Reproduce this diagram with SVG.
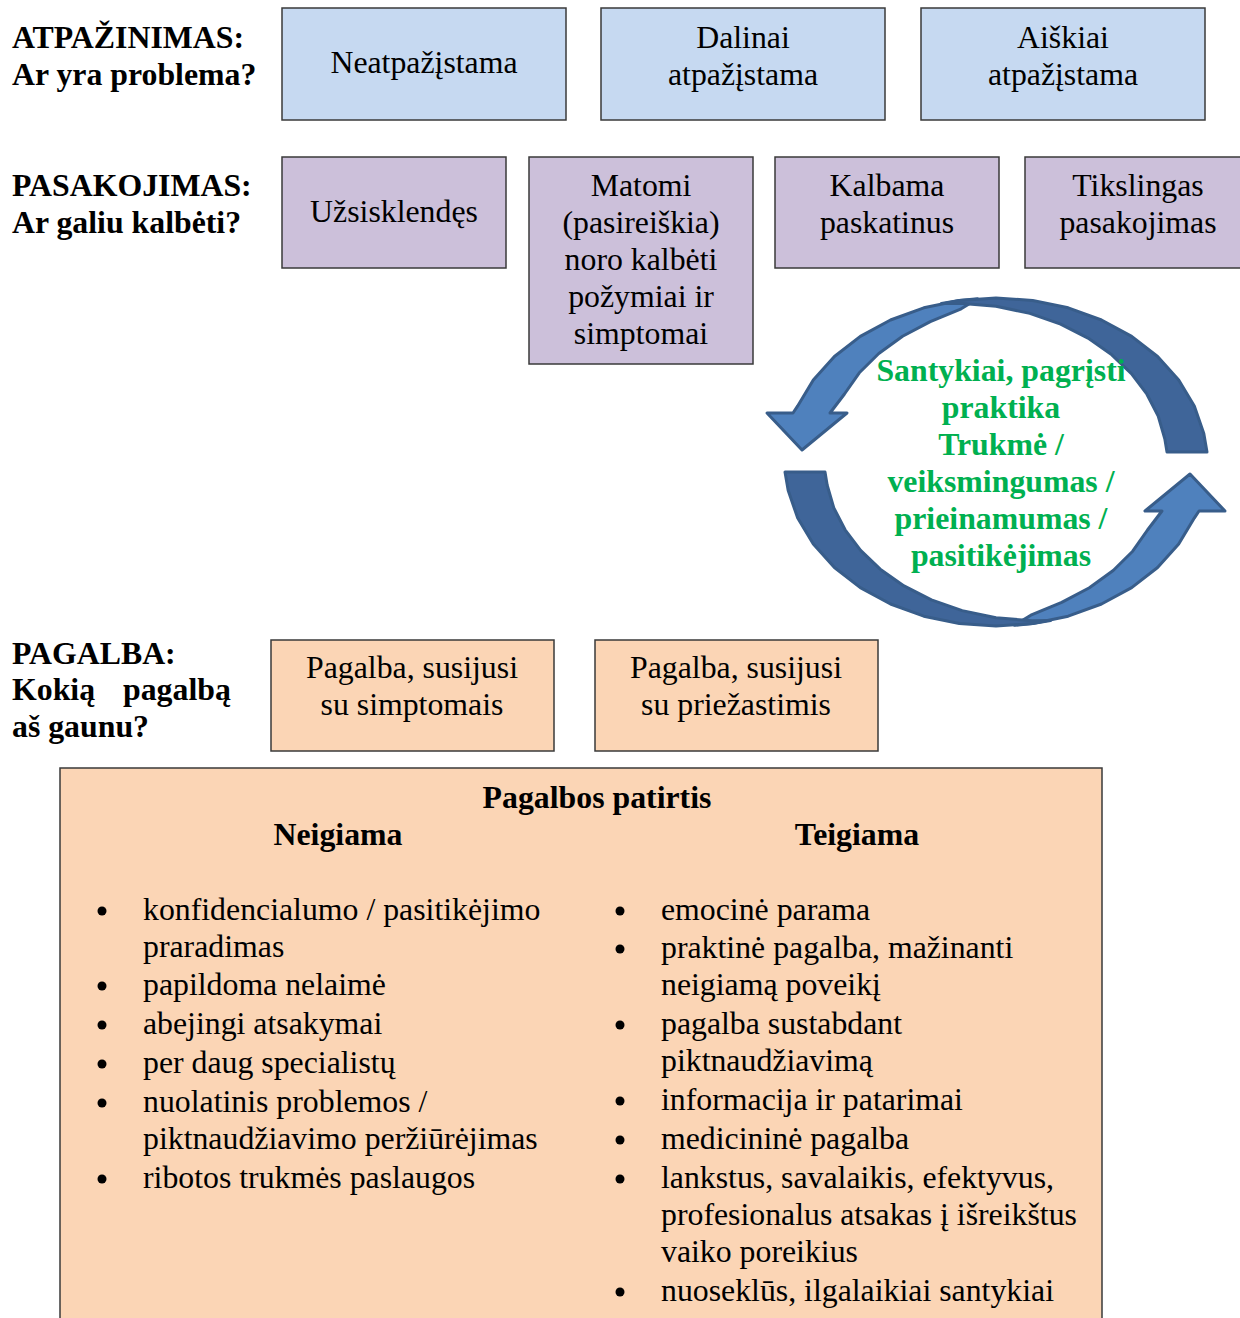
<svg xmlns="http://www.w3.org/2000/svg" width="1240" height="1318" viewBox="0 0 1240 1318">
<style>
text{font-family:"Liberation Serif","Times New Roman",serif;font-size:31.8px;fill:#000}
.b{font-weight:bold}
.c{text-anchor:middle}
.g{fill:#00B050;font-weight:bold;text-anchor:middle}
.box{stroke:#3a3a3a;stroke-width:1.5}
.blue{fill:#C6D9F1}
.purple{fill:#CCC0DA}
.peach{fill:#FBD5B5}
.arrL{fill:#4F81BD;stroke:#385D8A;stroke-width:3;stroke-linejoin:round}
.arrD{fill:#3F6599;stroke:#385D8A;stroke-width:3;stroke-linejoin:round}
.dot{fill:#000}
</style>
<defs>
<g id="curvArrow">
<path class="arrL" d="M977.6,298.7 L959.3,300.5 L923.8,307.8 L890.5,320 L860.3,336.4 L834.4,356.5 L813.3,380 L797.7,405.9 L793,413 L767,413 L802,450 L847,413 L830,413 L844.5,394 L859.3,372.8 L878.8,353.5 L902.6,336.3 L930.3,321.6 L961.2,308.8 Z"/>
<path class="arrD" d="M1207,452 L1203.8,433.5 L1194.3,405.9 L1178.7,380 L1157.6,356.5 L1131.7,336.4 L1101.5,320 L1068.2,307.8 L1032.7,300.5 L996,298 L959.3,300.5 L941.4,303.6 L959.9,303.3 L996,306.2 L1029.8,313.4 L1060.6,324.1 L1088,338.1 L1111.8,354.8 L1131.4,373.7 L1146.9,394.2 L1158.2,416.1 L1164.8,438.8 L1167,452 Z"/>
</g>
</defs>
<rect width="1240" height="1318" fill="#fff"/>

<g id="labels">
<text class="b" x="12" y="48">ATPAŽINIMAS:</text>
<text class="b" x="12" y="85">Ar yra problema?</text>
<text class="b" x="12" y="196">PASAKOJIMAS:</text>
<text class="b" x="12" y="233">Ar galiu kalbėti?</text>
<text class="b" x="12" y="664">PAGALBA:</text>
<text class="b" y="700"><tspan x="12">Kokią</tspan><tspan x="123">pagalbą</tspan></text>
<text class="b" x="12" y="737">aš gaunu?</text>
</g>

<g id="node-neatpazistama">
<rect class="box blue" x="282" y="8" width="284" height="112"/>
<text class="c" x="424" y="73">Neatpažįstama</text>
</g>
<g id="node-dalinai">
<rect class="box blue" x="601" y="8" width="284" height="112"/>
<text class="c" x="743" y="48">Dalinai</text>
<text class="c" x="743" y="85">atpažįstama</text>
</g>
<g id="node-aiskiai">
<rect class="box blue" x="921" y="8" width="284" height="112"/>
<text class="c" x="1063" y="48">Aiškiai</text>
<text class="c" x="1063" y="85">atpažįstama</text>
</g>

<g id="node-uzsisklendes">
<rect class="box purple" x="282" y="157" width="224" height="111"/>
<text class="c" x="394" y="222">Užsisklendęs</text>
</g>
<g id="node-matomi">
<rect class="box purple" x="529" y="157" width="224" height="207"/>
<text class="c" x="641" y="196">Matomi</text>
<text class="c" x="641" y="233">(pasireiškia)</text>
<text class="c" x="641" y="270">noro kalbėti</text>
<text class="c" x="641" y="307">požymiai ir</text>
<text class="c" x="641" y="344">simptomai</text>
</g>
<g id="node-kalbama">
<rect class="box purple" x="775" y="157" width="224" height="111"/>
<text class="c" x="887" y="196">Kalbama</text>
<text class="c" x="887" y="233">paskatinus</text>
</g>
<g id="node-tikslingas">
<rect class="box purple" x="1025" y="157" width="240" height="111"/>
<text class="c" x="1138" y="196">Tikslingas</text>
<text class="c" x="1138" y="233">pasakojimas</text>
</g>

<g id="connectors">
<use href="#curvArrow"/>
<use href="#curvArrow" transform="rotate(180 996 462)"/>
</g>

<g id="node-cycle">
<text class="g" x="1001" y="381">Santykiai, pagrįsti</text>
<text class="g" x="1001" y="418">praktika</text>
<text class="g" x="1001" y="455">Trukmė /</text>
<text class="g" x="1001" y="492">veiksmingumas /</text>
<text class="g" x="1001" y="529">prieinamumas /</text>
<text class="g" x="1001" y="566">pasitikėjimas</text>
</g>

<g id="node-simptomai">
<rect class="box peach" x="271" y="640" width="283" height="111"/>
<text class="c" x="412" y="678">Pagalba, susijusi</text>
<text class="c" x="412" y="715">su simptomais</text>
</g>
<g id="node-priezastys">
<rect class="box peach" x="595" y="640" width="283" height="111"/>
<text class="c" x="736" y="678">Pagalba, susijusi</text>
<text class="c" x="736" y="715">su priežastimis</text>
</g>

<g id="node-patirtis">
<rect class="box peach" x="60" y="768" width="1042" height="620"/>
<text class="b c" x="597" y="808">Pagalbos patirtis</text>
<text class="b c" x="338" y="845">Neigiama</text>
<text class="b c" x="857" y="845">Teigiama</text>

<circle class="dot" cx="102" cy="911" r="4.5"/>
<circle class="dot" cx="102" cy="986" r="4.5"/>
<circle class="dot" cx="102" cy="1025" r="4.5"/>
<circle class="dot" cx="102" cy="1064" r="4.5"/>
<circle class="dot" cx="102" cy="1103" r="4.5"/>
<circle class="dot" cx="102" cy="1179" r="4.5"/>
<text x="143" y="920">konfidencialumo / pasitikėjimo</text>
<text x="143" y="957">praradimas</text>
<text x="143" y="995">papildoma nelaimė</text>
<text x="143" y="1034">abejingi atsakymai</text>
<text x="143" y="1073">per daug specialistų</text>
<text x="143" y="1112">nuolatinis problemos /</text>
<text x="143" y="1149">piktnaudžiavimo peržiūrėjimas</text>
<text x="143" y="1188">ribotos trukmės paslaugos</text>

<circle class="dot" cx="620" cy="911" r="4.5"/>
<circle class="dot" cx="620" cy="949" r="4.5"/>
<circle class="dot" cx="620" cy="1025" r="4.5"/>
<circle class="dot" cx="620" cy="1101" r="4.5"/>
<circle class="dot" cx="620" cy="1140" r="4.5"/>
<circle class="dot" cx="620" cy="1179" r="4.5"/>
<circle class="dot" cx="620" cy="1292" r="4.5"/>
<text x="661" y="920">emocinė parama</text>
<text x="661" y="958">praktinė pagalba, mažinanti</text>
<text x="661" y="995">neigiamą poveikį</text>
<text x="661" y="1034">pagalba sustabdant</text>
<text x="661" y="1071">piktnaudžiavimą</text>
<text x="661" y="1110">informacija ir patarimai</text>
<text x="661" y="1149">medicininė pagalba</text>
<text x="661" y="1188">lankstus, savalaikis, efektyvus,</text>
<text x="661" y="1225">profesionalus atsakas į išreikštus</text>
<text x="661" y="1262">vaiko poreikius</text>
<text x="661" y="1301">nuoseklūs, ilgalaikiai santykiai</text>
</g>
</svg>
